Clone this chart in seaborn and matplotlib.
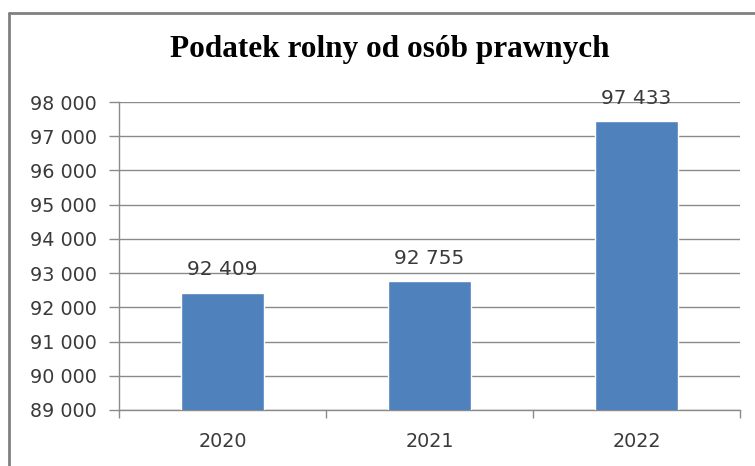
import matplotlib
matplotlib.use('Agg')
import matplotlib.pyplot as plt
import seaborn as sns
import pandas as pd
from matplotlib.ticker import FuncFormatter, FixedLocator
from matplotlib.lines import Line2D

# Data
years = ['2020', '2021', '2022']
values = [92409, 92755, 97433]

df = pd.DataFrame({'rok': years, 'kwota': values})

sns.set_style('white')
plt.rcParams['font.family'] = ['DejaVu Sans']

fig = plt.figure(figsize=(7.55, 4.66), dpi=100)
ax = fig.add_axes([0.1576, 0.1202, 0.8225, 0.6609])

sns.barplot(data=df, x='rok', y='kwota', color='#4F81BD', width=0.4,
            saturation=1, ax=ax, zorder=3)

ax.set_ylim(89000, 98000)
ax.set_xlim(-0.5, 2.5)
ax.yaxis.set_major_locator(FixedLocator(range(89000, 98001, 1000)))
ax.yaxis.set_major_formatter(FuncFormatter(lambda v, p: f'{int(v):,}'.replace(',', ' ')))
ax.grid(axis='y', color='#8a8a8a', linewidth=1, zorder=0)
ax.set_axisbelow(True)

for s in ['top', 'right']:
    ax.spines[s].set_visible(False)
for s in ['left', 'bottom']:
    ax.spines[s].set_color('#8a8a8a')
    ax.spines[s].set_linewidth(1)

ax.tick_params(axis='y', length=7, width=1, color='#8a8a8a', labelsize=13.8,
               labelcolor='#3a3a3a', pad=9, direction='out', left=True)
ax.tick_params(axis='x', which='major', length=0, labelsize=13.8,
               labelcolor='#3a3a3a', pad=16)
ax.xaxis.set_minor_locator(FixedLocator([-0.5, 0.5, 1.5, 2.5]))
ax.tick_params(axis='x', which='minor', length=6, width=1, color='#8a8a8a',
               direction='out', bottom=True)
ax.set_xlabel('')
ax.set_ylabel('')

for i, v in enumerate(values):
    ax.annotate(f'{v:,}'.replace(',', ' '), (i, v), xytext=(0, 10),
                textcoords='offset points', ha='center', va='bottom',
                fontsize=14.5, color='#3a3a3a', annotation_clip=False)

fig.text(390 / 755, 1 - 50 / 466, 'Podatek rolny od osób prawnych',
         ha='center', va='center', fontsize=22.5, fontweight='bold',
         family='Liberation Serif', color='black')

# frame around the chart area
fig.add_artist(Line2D([9 / 755, 9 / 755], [0, 1 - 13 / 466], transform=fig.transFigure,
                      color='#808080', linewidth=2))
fig.add_artist(Line2D([9 / 755, 1], [1 - 13 / 466, 1 - 13 / 466], transform=fig.transFigure,
                      color='#808080', linewidth=2))

fig.savefig('out.png', dpi=100)
